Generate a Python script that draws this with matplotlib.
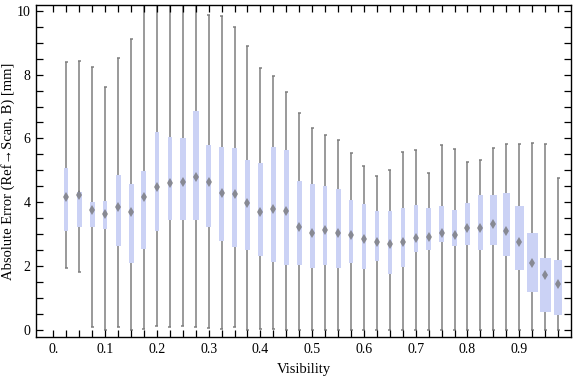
import numpy as np
import matplotlib
matplotlib.use("Agg")
import matplotlib.pyplot as plt

plt.rcParams['font.family'] = ['Liberation Serif', 'DejaVu Serif']

# ---- data ----
visibility = [round(0.025 * i, 3) for i in range(1, 40)]
whisker_low = [1.94, 1.83, 0.08, 0.00, 0.08, 0.00, 0.02, 0.13, 0.08, 0.12,
               0.08, 0.05, 0.02, 0.08, 0.00, 0.02, 0.02, 0.00, 0.00, 0.00,
               0.00, 0.00, 0.00, 0.00, 0.00, 0.00, 0.00, 0.00, 0.00, 0.00,
               0.00, 0.00, 0.00, 0.00, 0.00, 0.00, 0.00, 0.00, 0.00]
q1 = [3.11, 3.21, 3.21, 3.16, 2.64, 2.09, 2.53, 3.11, 3.43, 3.43,
      3.43, 3.24, 2.80, 2.61, 2.51, 2.33, 2.13, 2.03, 2.05, 1.93,
      2.02, 1.94, 2.11, 1.91, 2.16, 1.76, 1.98, 2.45, 2.49, 2.74,
      2.64, 2.67, 2.49, 2.66, 2.33, 1.89, 1.20, 0.57, 0.48]
median = [4.16, 4.22, 3.76, 3.64, 3.85, 3.69, 4.16, 4.48, 4.60, 4.63,
          4.79, 4.63, 4.30, 4.26, 3.97, 3.68, 3.78, 3.73, 3.24, 3.05,
          3.13, 3.05, 2.96, 2.84, 2.77, 2.69, 2.77, 2.88, 2.92, 3.03,
          2.97, 3.20, 3.18, 3.32, 3.10, 2.77, 2.11, 1.71, 1.45]
q3 = [5.07, 4.32, 4.02, 4.05, 4.86, 4.58, 4.99, 6.20, 6.06, 6.01,
      6.87, 5.80, 5.74, 5.71, 5.33, 5.24, 5.74, 5.63, 4.67, 4.58,
      4.51, 4.42, 4.08, 3.95, 3.73, 3.73, 3.81, 3.92, 3.82, 3.89,
      3.76, 3.98, 4.23, 4.22, 4.29, 3.89, 3.04, 2.26, 2.18]
whisker_high = [8.41, 8.44, 8.25, 7.61, 8.52, 9.11, 10.25, 10.8, 11.2, 11.0,
                10.6, 9.86, 9.83, 9.49, 8.89, 8.20, 7.95, 7.45, 6.80, 6.32,
                6.10, 5.95, 5.54, 5.13, 4.82, 5.01, 5.57, 5.63, 4.91, 5.79,
                5.66, 5.26, 5.34, 5.69, 5.82, 5.82, 5.85, 5.82, 4.75]
x_tick_labels = ["0.", "0.1", "0.2", "0.3", "0.4", "0.5", "0.6", "0.7", "0.8", "0.9"]
y_tick_labels = ["0", "2", "4", "6", "8", "10"]

# ---- style ----
box_px = [4, 4.7, 4.7, 4.3, 5, 5, 5, 4.7, 4.5, 5.5, 6, 5, 5, 4.7, 5, 5, 5, 5, 5, 5,
          4.5, 5, 4.5, 4.3, 4.3, 4.3, 4.3, 4.3, 5, 5, 5, 5, 5.3, 7, 6.7, 8.7, 10.7, 11, 8]
box_color = '#cbd2f5'
whisker_color = '#7f7f7f'

fig = plt.figure(figsize=(5.76, 3.77), dpi=100)
ax = fig.add_axes([36.3 / 576, 39.7 / 377, (571 - 36.3) / 576, (337.3 - 4.7) / 377])
xlim = (-0.033, 1.0)
ax.set_xlim(*xlim)
ax.set_ylim(-0.23, 10.19)
px = (xlim[1] - xlim[0]) / (571 - 36.3)

x = np.array(visibility)
ax.vlines(x, whisker_low, whisker_high, color=whisker_color, lw=1.1, zorder=1)
cap = 3 * px
ax.hlines(whisker_high, x - cap / 2, x + cap / 2, color=whisker_color, lw=1.1, zorder=1)
ax.hlines(whisker_low, x - cap / 2, x + cap / 2, color=whisker_color, lw=1.1, zorder=1)
ax.bar(x, np.array(q3) - np.array(q1), bottom=q1, width=np.array(box_px) * px,
       color=box_color, edgecolor='none', zorder=2)
ax.plot(x, median, linestyle='none', marker='d', markersize=5, markeredgewidth=0,
        color='#6a6a6a', alpha=0.7, zorder=3)

ax.set_xticks(np.arange(0, 40) * 0.025)
ax.set_xticklabels([x_tick_labels[i // 4] if i % 4 == 0 else "" for i in range(40)])
ax.set_yticks(np.arange(0, 21) * 0.5)
ax.set_yticklabels([y_tick_labels[i // 4] if i % 4 == 0 else "" for i in range(21)])
ax.tick_params(direction='in', length=5, width=0.9, top=True, right=True,
               labelsize=10, pad=4)
for s in ax.spines.values():
    s.set_linewidth(1.0)

ax.set_xlabel("Visibility", fontsize=10.5, labelpad=5)
ax.set_ylabel("Absolute Error (Ref\u2192Scan, B) [mm]", fontsize=10.5)
ax.yaxis.set_label_coords(-0.040, 0.5)

fig.savefig("out.png", dpi=100)
